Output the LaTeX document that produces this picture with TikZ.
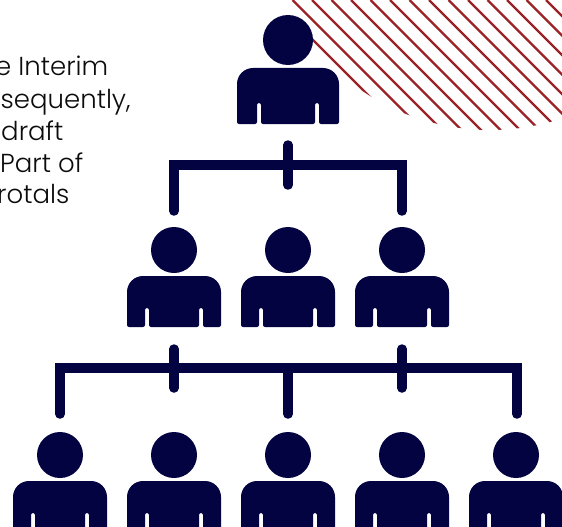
\documentclass[tikz,border=0pt]{standalone}
\usepackage{fontspec}
\setmainfont{Poppins}[UprightFont=* Light]
\definecolor{navy}{HTML}{040342}
\definecolor{hatch}{HTML}{9B2226}
\definecolor{ink}{HTML}{0C0C0C}
\tikzset{
  link/.style={draw=navy,line width=9.5pt,line cap=round,line join=miter},
  hatchline/.style={draw=hatch,line width=2.2pt},
  para/.style={anchor=base west,inner sep=0pt,text=ink,font=\fontsize{26}{26}\selectfont},
  headbig/.style={circle,fill=navy,inner sep=0pt,minimum size=50pt},
  headsmall/.style={circle,fill=navy,inner sep=0pt,minimum size=46pt}
}
% cx, top, halfwidth, slit top, bottom, slit offset from the side
\newcommand{\torso}[6]{%
  \fill[navy] (#1-#3,#5-2) -- (#1-#3,#2+16)
    arc[start angle=180,end angle=270,radius=16] -- (#1+#3-16,#2)
    arc[start angle=270,end angle=360,radius=16] -- (#1+#3,#5-2)
    arc[start angle=0,end angle=90,radius=2] -- (#1+#3-#6+2,#5)
    arc[start angle=90,end angle=180,radius=2] -- (#1+#3-#6,#4+2)
    arc[start angle=0,end angle=-180,radius=2] -- (#1+#3-#6-4,#5-2)
    arc[start angle=0,end angle=90,radius=2] -- (#1-#3+#6+6,#5)
    arc[start angle=90,end angle=180,radius=2] -- (#1-#3+#6+4,#4+2)
    arc[start angle=0,end angle=-180,radius=2] -- (#1-#3+#6,#5-2)
    arc[start angle=0,end angle=90,radius=2] -- (#1-#3+2,#5)
    arc[start angle=90,end angle=180,radius=2] -- cycle;
}
\begin{document}
\begin{tikzpicture}[x=1pt,y=-1pt]
\useasboundingbox (0,0) rectangle (562,527);
\clip (0,0) rectangle (562,527);
% hatching
\begin{scope}
  \clip (490,-98) circle[radius=228pt];
  \foreach \k in {0,...,16} {
    \pgfmathsetmacro{\xa}{273+19.5*\k}
    \draw[hatchline] (\xa,0) -- (\xa+140,140);
  }
\end{scope}
% text
\node[para] (l1) at (-5,76) {e Interim};
\node[para] (l2) at (0.5,108) {sequently,};
\node[para] (l3) at (1,140) {draft};
\node[para] (l4) at (0,172) {Part of};
\node[para] (l5) at (-3,203) {rotals};
% heads
\node[headbig] (top) at (288,40) {};
\foreach \n/\x in {a/174,b/288,c/402} \node[headsmall] (\n) at (\x,250) {};
\foreach \n/\x in {p/60,q/174,r/288,s/402,t/516} \node[headsmall] (\n) at (\x,455) {};
% torsos
\torso{288}{68}{51}{103}{124}{20}
\foreach \x in {174,288,402} {\torso{\x}{276}{47}{308}{327}{18}}
\foreach \x in {60,174,288,402,516} {\torso{\x}{481}{47}{513}{532}{18}}
% connectors
\coordinate (u0) at (288,145);
\coordinate (u1) at (288,185);
\coordinate (ua) at (174,211);
\coordinate (uc) at (402,211);
\coordinate (uA) at (174,165);
\coordinate (uC) at (402,165);
\draw[link] (u0) -- (u1);
\draw[link] (ua) -- (uA) -- (uC) -- (uc);
\coordinate (lq0) at (174,349);
\coordinate (lq1) at (174,388);
\coordinate (ls0) at (402,349);
\coordinate (ls1) at (402,388);
\coordinate (lr0) at (288,368);
\coordinate (lr1) at (288,414);
\coordinate (lp) at (60,414);
\coordinate (lt) at (517,414);
\coordinate (lP) at (60,368);
\coordinate (lT) at (517,368);
\draw[link] (lp) -- (lP) -- (lT) -- (lt);
\draw[link] (lq0) -- (lq1);
\draw[link] (ls0) -- (ls1);
\draw[link] (lr0) -- (lr1);
\end{tikzpicture}
\end{document}
